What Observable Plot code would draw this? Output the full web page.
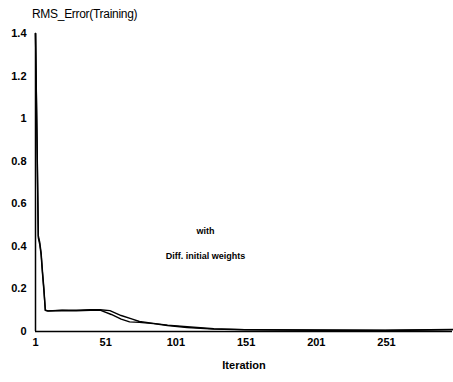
<!DOCTYPE html>
<html>
<head>
<meta charset="utf-8">
<script src="https://cdn.jsdelivr.net/npm/d3@7"></script>
<script src="https://cdn.jsdelivr.net/npm/@observablehq/plot@0.6"></script>
<style>
  html, body { margin: 0; padding: 0; background: #fff; }
  #title { height: 28px; line-height: 28px; padding-left: 32px; font-family: "Liberation Sans", Arial, sans-serif; font-size: 12px; color: #000; letter-spacing: -0.3px; }
  #chart svg { display: block; }
</style>
</head>
<body>
<div id="title">RMS_Error(Training)</div>
<div id="chart"></div>
<script>
// Series A (upper hump)
const iterA = [1, 2, 3, 4, 5, 6, 7, 8, 10, 20, 30, 40, 47, 54, 62, 70, 75, 85, 95, 109, 128, 150, 200, 250, 298];
const rmsA  = [1.40, 0.95, 0.45, 0.42, 0.37, 0.28, 0.20, 0.10, 0.097, 0.100, 0.100, 0.102, 0.102, 0.098, 0.075, 0.058, 0.047, 0.038, 0.030, 0.022, 0.013, 0.009, 0.007, 0.006, 0.010];
// Series B (lower hump)
const iterB = [1, 2, 3, 4, 5, 6, 7, 8, 10, 20, 30, 40, 47, 55, 62, 68, 75, 85, 95, 109, 128, 150, 200, 250, 298];
const rmsB  = [1.40, 0.93, 0.44, 0.41, 0.36, 0.27, 0.19, 0.10, 0.096, 0.099, 0.097, 0.100, 0.100, 0.080, 0.058, 0.045, 0.043, 0.037, 0.028, 0.019, 0.011, 0.008, 0.006, 0.005, 0.008];
const xTicks = [1, 51, 101, 151, 201, 251];
const yTicks = [0, 0.2, 0.4, 0.6, 0.8, 1, 1.2, 1.4];
const yTickLabels = ["0", "0.2", "0.4", "0.6", "0.8", "1", "1.2", "1.4"];
const noteText = ["with", "Diff. initial weights"];
const noteX = [122, 122];
const noteY = [0.47, 0.353];

const seriesA = iterA.map((d, i) => ({iter: d, rms: rmsA[i]}));
const seriesB = iterB.map((d, i) => ({iter: d, rms: rmsB[i]}));
const notes = noteText.map((t, i) => ({t, x: noteX[i], y: noteY[i]}));

const chart = Plot.plot({
  width: 453,
  height: 354,
  marginTop: 5,
  marginBottom: 51,
  marginLeft: 35,
  marginRight: 1,
  style: {fontFamily: "'Liberation Sans', Arial, sans-serif", fontSize: "11px", color: "#000", background: "#fff"},
  x: {domain: [1, 298], ticks: xTicks, tickSize: 0, tickPadding: 7, label: "Iteration", labelAnchor: "center", labelArrow: "none", labelOffset: 37},
  y: {domain: [0, 1.4], ticks: yTicks, tickFormat: (d, i) => yTickLabels[yTicks.indexOf(d)], tickSize: 0, tickPadding: 9, label: null},
  marks: [
    Plot.axisX({ticks: xTicks, tickSize: 0, tickPadding: 7, fontWeight: "bold", label: "Iteration", labelAnchor: "center", labelArrow: "none", labelOffset: 37}),
    Plot.axisY({ticks: yTicks, tickFormat: d => yTickLabels[yTicks.indexOf(d)], tickSize: 0, tickPadding: 9, fontWeight: "bold", label: null}),
    Plot.ruleY([0], {stroke: "#000", strokeWidth: 1.5}),
    Plot.ruleX([1], {y1: 0, y2: 1.4, stroke: "#000", strokeWidth: 1.5}),
    Plot.line(seriesA, {x: "iter", y: "rms", stroke: "#000", strokeWidth: 1.4}),
    Plot.line(seriesB, {x: "iter", y: "rms", stroke: "#000", strokeWidth: 1.4}),
    Plot.text(notes, {x: "x", y: "y", text: "t", fontSize: 9, fontWeight: "bold", fill: "#000"})
  ]
});
document.getElementById("chart").appendChild(chart);
</script>
</body>
</html>
